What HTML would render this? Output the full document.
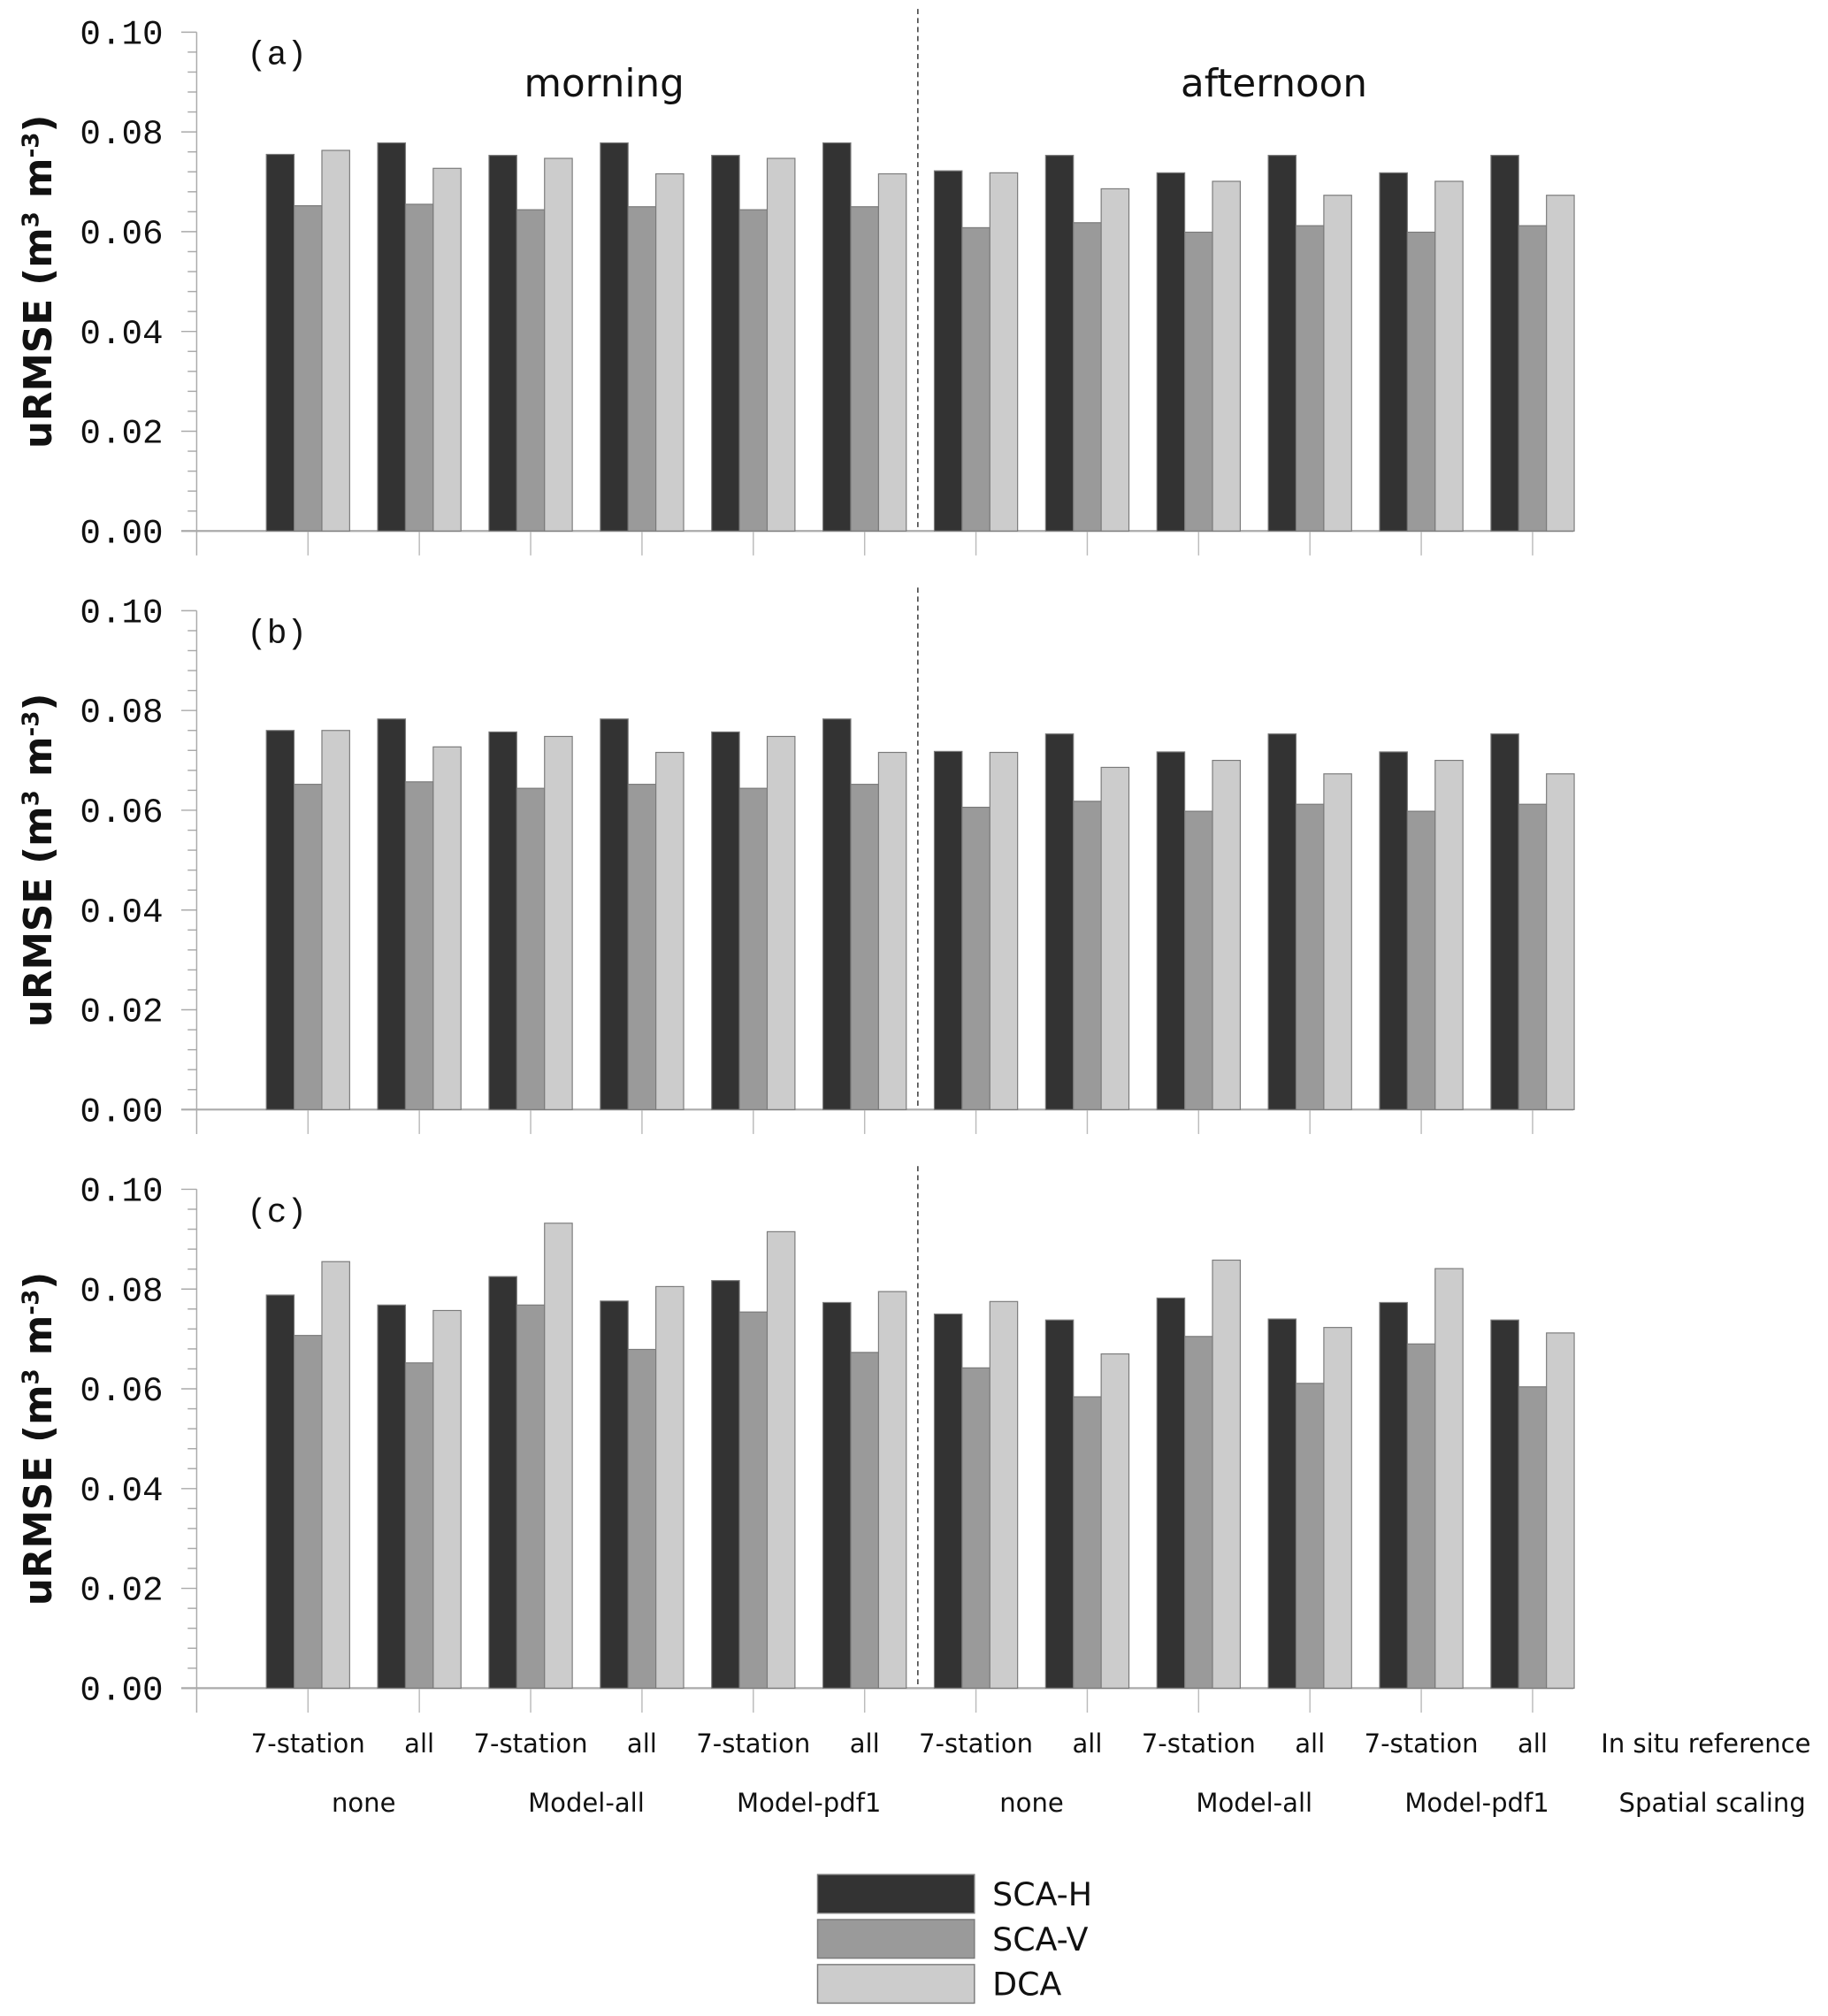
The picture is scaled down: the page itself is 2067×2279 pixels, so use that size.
<!DOCTYPE html>
<html><head><meta charset="utf-8">
<style>
html,body{margin:0;padding:0;background:#fff;}
svg{display:block;}
text{font-family:"DejaVu Sans","Liberation Sans",sans-serif;fill:#111;}
.mono{font-family:"Liberation Mono","DejaVu Sans Mono",monospace;}
</style></head>
<body>
<svg id="chart" width="2067" height="2279" viewBox="0 0 1422 1568" preserveAspectRatio="none" xmlns="http://www.w3.org/2000/svg"></svg>
<script>
const groupLabels = ["7-station","all","7-station","all","7-station","all","7-station","all","7-station","all","7-station","all"];
const scalingLabels = ["none","Model-all","Model-pdf1","none","Model-all","Model-pdf1"];
const seriesNames = ["SCA-H","SCA-V","DCA"];
const yTicks = [0,0.02,0.04,0.06,0.08,0.10];
const panelLabels = ["(a)","(b)","(c)"];
const aScaH = [0.0755,0.0778,0.0753,0.0778,0.0753,0.0778,0.0722,0.0753,0.0718,0.0753,0.0718,0.0753];
const aScaV = [0.0652,0.0655,0.0644,0.0650,0.0644,0.0650,0.0608,0.0618,0.0599,0.0612,0.0599,0.0612];
const aDca  = [0.0763,0.0727,0.0747,0.0716,0.0747,0.0716,0.0718,0.0686,0.0701,0.0673,0.0701,0.0673];
const bScaH = [0.0760,0.0783,0.0757,0.0783,0.0757,0.0783,0.0718,0.0753,0.0717,0.0753,0.0717,0.0753];
const bScaV = [0.0652,0.0657,0.0644,0.0652,0.0644,0.0652,0.0606,0.0618,0.0598,0.0612,0.0598,0.0612];
const bDca  = [0.0760,0.0727,0.0748,0.0716,0.0748,0.0716,0.0716,0.0686,0.0700,0.0673,0.0700,0.0673];
const cScaH = [0.0788,0.0768,0.0825,0.0776,0.0817,0.0773,0.0750,0.0738,0.0782,0.0740,0.0773,0.0738];
const cScaV = [0.0707,0.0652,0.0768,0.0679,0.0754,0.0673,0.0642,0.0584,0.0705,0.0611,0.0690,0.0604];
const cDca  = [0.0855,0.0757,0.0932,0.0805,0.0915,0.0795,0.0775,0.0670,0.0858,0.0723,0.0841,0.0712];

const panels = [[aScaH,aScaV,aDca],[bScaH,bScaV,bDca],[cScaH,cScaV,cDca]];
const fills = ["#333333","#9a9a9a","#cccccc"];
const svg = document.getElementById('chart');
const NS = "http://www.w3.org/2000/svg";
function mk(tag, attrs, parent){const e=document.createElementNS(NS,tag);for(const k in attrs)e.setAttribute(k,attrs[k]);(parent||svg).appendChild(e);return e;}

const axisX = 153, step = 86.6, barW = 21.6, plotRight = 1224;
const xCenter = i => axisX + step*(i+1);

panels.forEach((series, p) => {
  const y0 = 413 + 450*p, y1 = 25 + 450*p;
  const yScale = v => y0 - (v/0.1)*(y0-y1);
  const g = mk('g', {});
  
  
  // y axis
  const ya = mk('line',{x1:axisX,y1:y1,x2:axisX,y2:y0+19,stroke:'#aaa','stroke-width':1},g);
  
  
  for(let k=0;k<=25;k++){
    const v=k*0.004, y=yScale(v);
    const major = (k%5===0);
    mk('line',{x1:major?141:146,y1:y,x2:axisX,y2:y,stroke:'#aaa','stroke-width':1},g);
  }
  yTicks.forEach(t=>{
    const tx = mk('text',{x:127,y:yScale(t)+9,'text-anchor':'end','font-size':27,class:'mono'},g);
    tx.textContent = t.toFixed(2);
    
    
  });
  // baseline
  const xa = mk('line',{x1:141,y1:y0,x2:plotRight,y2:y0,stroke:'#aaa','stroke-width':1.5},g);
  
  
  for(let i=0;i<12;i++) mk('line',{x1:xCenter(i),y1:y0,x2:xCenter(i),y2:y0+19,stroke:'#bbb','stroke-width':1},g);
  // divider
  const dv = mk('line',{x1:714,y1:y1-18,x2:714,y2:y0,stroke:'#333','stroke-width':1,'stroke-dasharray':'4,3'},g);
  
  
  // bars
  series.forEach((vals,s)=>{
    vals.forEach((v,i)=>{
      const x = xCenter(i) - 1.5*barW + s*barW;
      const top = yScale(v);
      const r = mk('rect',{x:x,y:top,width:barW,height:y0-top,fill:fills[s],stroke:'#7a7a7a','stroke-width':0.8},g);
      
      
    });
  });
  const pl = mk('text',{x:192,y:y1+25,'font-size':26,class:'mono'},g);
  pl.textContent = panelLabels[p];
  
  
  const yt = mk('text',{x:0,y:0,'font-size':30,'font-weight':'bold','text-anchor':'middle',transform:`translate(40,${(y0+y1)/2}) rotate(-90)`},g);
  yt.innerHTML = 'uRMSE (m<tspan dy="-10" font-size="18">3</tspan><tspan dy="10"> m</tspan><tspan dy="-10" font-size="18">-3</tspan><tspan dy="10">)</tspan>';
  
  
});

const m = mk('text',{x:470,y:75,'font-size':30,'text-anchor':'middle'});
m.textContent='morning';


const a = mk('text',{x:991,y:75,'font-size':30,'text-anchor':'middle'});
a.textContent='afternoon';



groupLabels.forEach((l,i)=>{
  const t = mk('text',{x:xCenter(i),y:1363,'font-size':20,'text-anchor':'middle'});
  t.textContent=l;
  
  
});
const ir = mk('text',{x:1327,y:1363,'font-size':20,'text-anchor':'middle'});
ir.textContent='In situ reference';


scalingLabels.forEach((l,j)=>{
  const t = mk('text',{x:(xCenter(2*j)+xCenter(2*j+1))/2,y:1409,'font-size':20,'text-anchor':'middle'});
  t.textContent=l;
  
  
});
const ss = mk('text',{x:1332,y:1409,'font-size':20,'text-anchor':'middle'});
ss.textContent='Spatial scaling';



seriesNames.forEach((n,s)=>{
  const y = 1458 + s*35;
  const r = mk('rect',{x:636,y:y,width:122,height:30,fill:fills[s],stroke:'#7a7a7a','stroke-width':1});
  
  
  const t = mk('text',{x:772,y:y+24,'font-size':25});
  t.textContent=n;
  
  
});
</script>
</body></html>
